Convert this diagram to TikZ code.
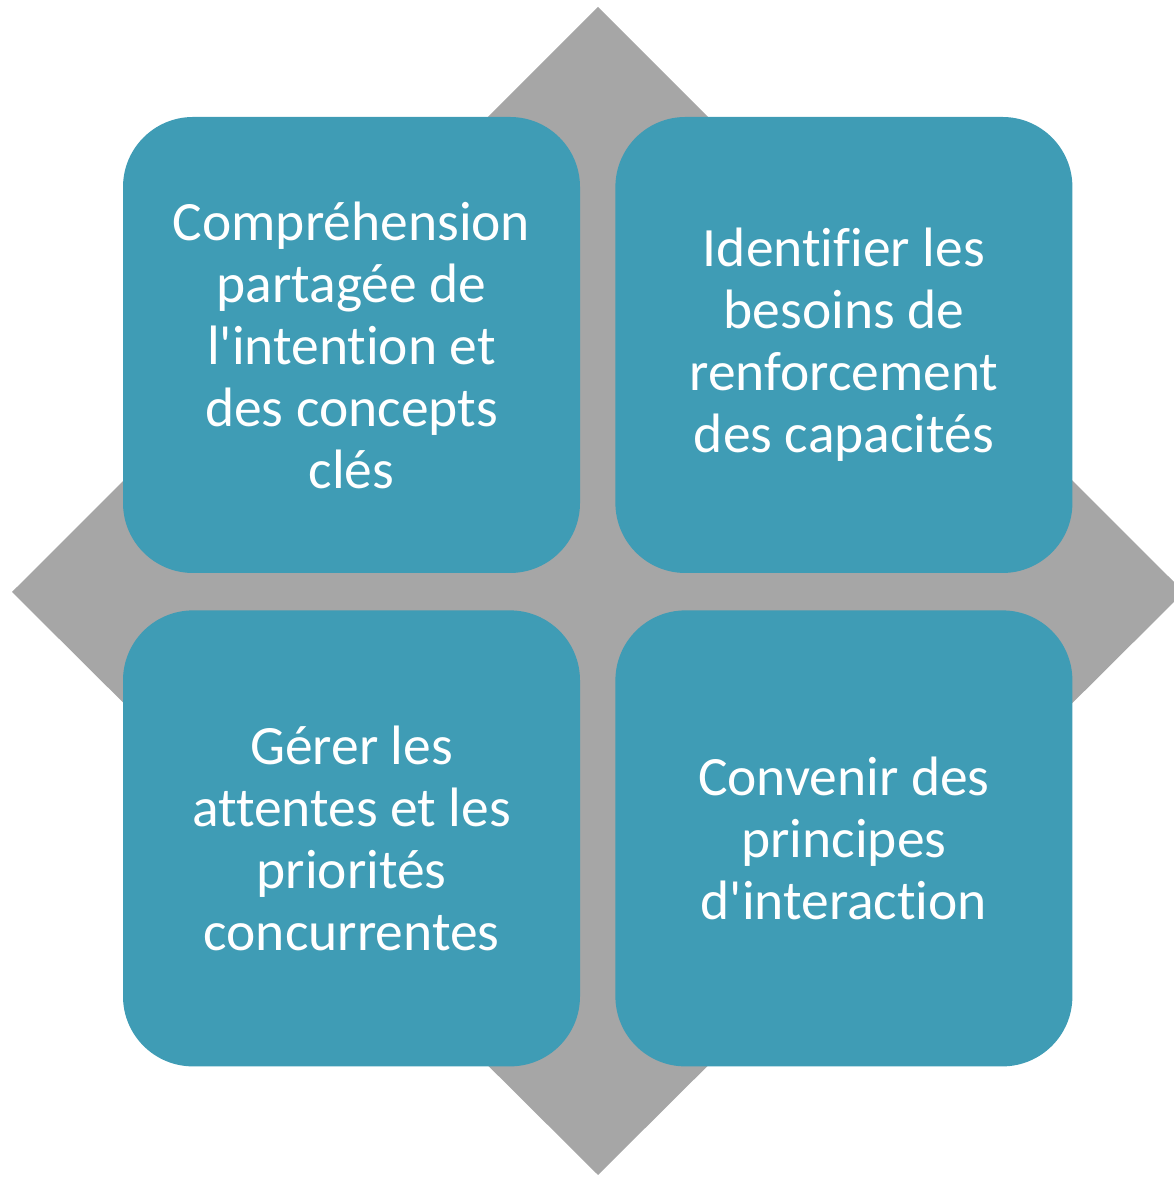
\documentclass[tikz,border=0pt]{standalone}
\usepackage{fontspec}
\setmainfont{Carlito}[Ligatures={NoCommon}]
\usepackage{tikz}
\usetikzlibrary{positioning}
\definecolor{teal_q}{HTML}{3F9CB5}
\definecolor{gray_d}{HTML}{A6A6A6}
\tikzstyle{quad_c} = [rectangle, rounded corners=70pt, fill=teal_q, text=white, align=center, inner sep=0pt, minimum width=457pt, minimum height=456pt, font=\fontsize{55.5}{62}\selectfont]

\begin{document}
\begin{tikzpicture}[x=1pt,y=1pt]
\useasboundingbox (0,0) rectangle (1174,1177);
\fill [gray_d] (598,1170) -- (1184,585) -- (598,2) -- (12,585) -- cycle;
\node [quad_c] (tl) at (351.5,832) {Compréhension\\partagée de\\l\textquotesingle intention et\\des concepts\\clés};
\node [quad_c, right=35pt of tl] (tr) {Identifier les\\besoins de\\renforcement\\des capacités};
\node [quad_c, below=37pt of tl] (bl) {Gérer les\\attentes et les\\priorités\\concurrentes};
\node [quad_c, below=37pt of tr] (br) {Convenir des\\principes\\d\textquotesingle interaction};
\end{tikzpicture}
\end{document}
